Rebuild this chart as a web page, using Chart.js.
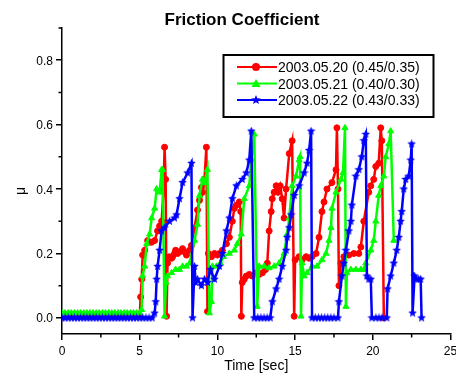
<!DOCTYPE html>
<html>
<head>
<meta charset="utf-8">
<script src="https://cdn.jsdelivr.net/npm/chart.js@4/dist/chart.umd.min.js"></script>
<style>
  html, body { margin: 0; padding: 0; background: #fff; }
  #wrap { width: 456px; height: 381px; }
</style>
</head>
<body>
<div id="wrap"><canvas id="friction_chart" width="456" height="381"></canvas></div>
<script>
// axis ticks
const xTicks = [0, 5, 10, 15, 20, 25];
const xMinor = [2.5, 7.5, 12.5, 17.5, 22.5];
const yTicks = [0, 0.2, 0.4, 0.6, 0.8];
const yTickLabels = ["0.0", "0.2", "0.4", "0.6", "0.8"];
const yMinor = [0.1, 0.3, 0.5, 0.7, 0.9];

const seriesNames = ["2003.05.20 (0.45/0.35)", "2003.05.21 (0.40/0.30)", "2003.05.22 (0.43/0.33)"];

// 2003.05.20 (red)
const redTime = [0, 0.2, 0.4, 0.6, 0.8, 1, 1.2, 1.4, 1.6, 1.8, 2, 2.2, 2.4, 2.6, 2.8, 3, 3.2, 3.4, 3.6, 3.8, 4, 4.2, 4.4, 4.6, 4.8, 5,
  5.06, 5.13, 5.19, 5.32, 5.51, 5.64, 5.77, 5.96, 6.15, 6.28,
  6.41, 6.54, 6.60, 6.67, 6.73, 6.79, 6.92, 7.05, 7.12, 7.24,
  7.31, 7.44, 7.56, 7.76, 7.88, 8.01, 8.21, 8.33, 8.53, 8.72,
  8.85, 8.97, 9.04, 9.17, 9.29, 9.36, 9.42, 9.62, 9.81, 10.0,
  10.13, 10.32, 10.58, 10.77, 10.96, 11.09, 11.22, 11.41, 11.50, 11.54,
  11.60, 11.73, 11.86, 12.05, 12.24, 12.50, 12.69, 12.90, 13.10, 13.21,
  13.33, 13.46, 13.53, 13.65, 13.78, 13.90, 14.04, 14.17, 14.29, 14.42,
  14.62, 14.81, 14.94, 15.00, 15.26, 15.45, 15.71, 15.90, 16.09, 16.35,
  16.54, 16.73, 16.86, 17.05, 17.37, 17.63, 17.69, 17.76, 17.82, 17.95,
  18.14, 18.46, 18.78, 19.10, 19.23, 19.42, 19.74, 19.87, 20.06, 20.19,
  20.38, 20.51, 20.58, 20.71];
const redMu = [0.005, 0.005, 0.005, 0.005, 0.005, 0.005, 0.005, 0.005, 0.005, 0.005, 0.005, 0.005, 0.005, 0.005, 0.005, 0.005, 0.005, 0.005, 0.005, 0.005, 0.005, 0.005, 0.005, 0.005, 0.005, 0.005,
  0.065, 0.12, 0.195, 0.21, 0.24, 0.235, 0.235, 0.24, 0.27, 0.285,
  0.30, 0.40, 0.53, 0.43, 0.005, 0.17, 0.19, 0.185, 0.19, 0.20,
  0.21, 0.20, 0.205, 0.215, 0.205, 0.195, 0.21, 0.225, 0.28, 0.335,
  0.365, 0.405, 0.39, 0.43, 0.53, 0.02, 0.20, 0.19, 0.20, 0.195,
  0.20, 0.21, 0.23, 0.25, 0.30, 0.34, 0.35, 0.36, 0.33, 0.005,
  0.11, 0.12, 0.13, 0.135, 0.13, 0.14, 0.135, 0.14, 0.15, 0.17,
  0.27, 0.33, 0.37, 0.39, 0.41, 0.39, 0.41, 0.37, 0.31, 0.40,
  0.51, 0.55, 0.005, 0.18, 0.19, 0.18, 0.19, 0.185, 0.19, 0.20,
  0.25, 0.33, 0.36, 0.40, 0.42, 0.46, 0.59, 0.40, 0.10, 0.17,
  0.19, 0.195, 0.20, 0.20, 0.22, 0.30, 0.39, 0.41, 0.43, 0.47,
  0.48, 0.59, 0.55, 0];

// 2003.05.21 (green)
const greenTime = [0, 0.2, 0.4, 0.6, 0.8, 1, 1.2, 1.4, 1.6, 1.8, 2, 2.2, 2.4, 2.6, 2.8, 3, 3.2, 3.4, 3.6, 3.8, 4, 4.2, 4.4, 4.6, 4.8, 5,
  5.13, 5.19, 5.32, 5.45, 5.64, 5.77, 5.96, 6.09, 6.28, 6.41,
  6.47, 6.60, 6.70, 6.79, 7.05, 7.31, 7.56, 7.76, 8.01, 8.21,
  8.53, 8.72, 8.85, 9.04, 9.17, 9.36, 9.49, 9.62, 9.68, 9.94,
  10.19, 10.39, 10.77, 11.09, 11.28, 11.54, 11.73, 12.05, 12.18, 12.37,
  12.56, 12.69, 13.01, 13.33, 13.65, 13.97, 14.29, 14.49, 14.62, 14.81,
  15.06, 15.26, 15.32, 15.38, 15.45, 15.58, 15.77, 16.09, 16.41, 16.73,
  16.99, 17.18, 17.31, 17.37, 17.63, 17.95, 18.08, 18.21, 18.27, 18.33,
  18.59, 18.91, 19.23, 19.42, 19.55, 19.87, 20.06, 20.19, 20.38, 20.51,
  20.71, 20.83, 21.03, 21.15, 21.35];
const greenMu = [0.015, 0.015, 0.015, 0.015, 0.015, 0.015, 0.015, 0.015, 0.015, 0.015, 0.015, 0.015, 0.015, 0.015, 0.015, 0.015, 0.015, 0.015, 0.015, 0.015, 0.015, 0.015, 0.015, 0.015, 0.015, 0.015,
  0.025, 0.13, 0.16, 0.23, 0.26, 0.31, 0.34, 0.40, 0.39, 0.46,
  0.46, 0.005, 0.11, 0.13, 0.14, 0.15, 0.15, 0.16, 0.16, 0.17,
  0.24, 0.29, 0.38, 0.43, 0.42, 0.46, 0.015, 0.05, 0.16, 0.16,
  0.17, 0.19, 0.20, 0.21, 0.23, 0.26, 0.37, 0.41, 0.49, 0.57,
  0.035, 0.16, 0.16, 0.155, 0.16, 0.17, 0.20, 0.26, 0.31, 0.41,
  0.44, 0.49, 0.50, 0.005, 0.17, 0.13, 0.14, 0.16, 0.16, 0.18,
  0.20, 0.24, 0.28, 0.34, 0.39, 0.43, 0.45, 0.59, 0.035, 0.14,
  0.15, 0.15, 0.15, 0.15, 0.17, 0.21, 0.24, 0.30, 0.38, 0.41,
  0.44, 0.50, 0.54, 0.58, 0.24];

// 2003.05.22 (blue)
const blueTime = [0, 0.2, 0.4, 0.6, 0.8, 1, 1.2, 1.4, 1.6, 1.8, 2, 2.2, 2.4, 2.6, 2.8, 3, 3.2, 3.4, 3.6, 3.8, 4, 4.2, 4.4, 4.6, 4.8, 5, 5.2, 5.4, 5.6, 5.8,
  5.96, 6.03, 6.09, 6.15, 6.28, 6.41, 6.60, 6.92, 7.24, 7.37,
  7.56, 7.76, 8.08, 8.33, 8.40, 8.53, 8.60, 8.72, 8.97, 9.17,
  9.36, 9.55, 9.81, 10.13, 10.32, 10.58, 10.77, 10.96, 11.22, 11.60,
  11.86, 12.05, 12.18, 12.37, 12.6, 12.8, 13.0, 13.2, 13.4, 13.53,
  13.78, 13.97, 14.17, 14.42, 14.49, 14.62, 14.74, 14.94, 15.26, 15.58,
  15.77, 15.90, 16.03, 16.09, 16.3, 16.5, 16.7, 16.9, 17.1, 17.3,
  17.5, 17.76, 17.82, 18.01, 18.14, 18.27, 18.46, 18.59, 18.65, 18.91,
  19.10, 19.29, 19.42, 19.55, 19.62, 19.74, 19.87, 19.94, 20.2, 20.4,
  20.6, 20.9, 20.95, 21.15, 21.35, 21.54, 21.67, 21.79, 21.86, 21.99,
  22.12, 22.31, 22.44, 22.50, 22.56, 22.69, 22.82, 22.95, 23.08, 23.14];
const blueMu = [0, 0, 0, 0, 0, 0, 0, 0, 0, 0, 0, 0, 0, 0, 0, 0, 0, 0, 0, 0, 0, 0, 0, 0, 0, 0, 0, 0, 0, 0,
  0.015, 0.05, 0.12, 0.16, 0.21, 0.27, 0.28, 0.30, 0.31, 0.32,
  0.37, 0.42, 0.45, 0.48, 0, 0.16, 0.11, 0.12, 0.10, 0.12,
  0.11, 0.15, 0.12, 0.16, 0.20, 0.27, 0.31, 0.37, 0.41, 0.43,
  0.45, 0.49, 0.58, 0, 0, 0, 0, 0, 0, 0.05,
  0.09, 0.12, 0.16, 0.21, 0.25, 0.28, 0.32, 0.38, 0.41, 0.45,
  0.48, 0.52, 0.58, 0, 0, 0, 0, 0, 0, 0,
  0, 0, 0.05, 0.13, 0.17, 0.21, 0.27, 0.30, 0.35, 0.44,
  0.46, 0.50, 0.55, 0.57, 0.13, 0.12, 0.12, 0, 0, 0,
  0, 0, 0.09, 0.13, 0.17, 0.21, 0.25, 0.30, 0.33, 0.40,
  0.43, 0.44, 0.49, 0.54, 0.015, 0.13, 0.12, 0.12, 0.12, 0];

const RED = "#ff0000", GREEN = "#00ff00", BLUE = "#0000ff";
const FONT = '"Liberation Sans", Arial, sans-serif';

function to_points(times, values) {
  return times.map((t, i) => ({ x: t, y: values[i] }));
}

// filled five point star, used as point style for the blue set
function make_star(size, color) {
  const c = document.createElement("canvas");
  c.width = size; c.height = size;
  const g = c.getContext("2d");
  draw_star(g, size / 2, size / 2, size / 2, color);
  return c;
}

function draw_star(g, cx, cy, r, color) {
  g.beginPath();
  for (let i = 0; i < 10; i++) {
    const rr = i % 2 === 0 ? r : r * 0.45;
    const a = -Math.PI / 2 + i * Math.PI / 5;
    const px = cx + rr * Math.cos(a), py = cy + rr * Math.sin(a);
    if (i === 0) g.moveTo(px, py); else g.lineTo(px, py);
  }
  g.closePath();
  g.fillStyle = color;
  g.fill();
}

function draw_marker(g, style, cx, cy, color) {
  g.fillStyle = color;
  if (style === "circle") {
    g.beginPath(); g.arc(cx, cy, 4, 0, Math.PI * 2); g.fill();
  } else if (style === "triangle") {
    g.beginPath(); g.moveTo(cx, cy - 4.5); g.lineTo(cx + 4.5, cy + 3.5); g.lineTo(cx - 4.5, cy + 3.5); g.closePath(); g.fill();
  } else {
    draw_star(g, cx, cy, 5, color);
  }
}

const overlay = {
  id: "overlay",
  afterDraw(chart) {
    const g = chart.ctx, xs = chart.scales.x, ys = chart.scales.y;
    const area = chart.chartArea;
    g.save();
    g.strokeStyle = "#000";
    g.lineWidth = 1.5;

    // minor ticks
    g.beginPath();
    xMinor.forEach(v => {
      const px = xs.getPixelForValue(v);
      g.moveTo(px, area.bottom); g.lineTo(px, area.bottom + 3.5);
    });
    yMinor.forEach(v => {
      const py = ys.getPixelForValue(v);
      g.moveTo(area.left, py); g.lineTo(area.left - 3.5, py);
    });
    g.stroke();

    // tick labels
    g.fillStyle = "#000";
    g.font = "12px " + FONT;
    g.textAlign = "center";
    g.textBaseline = "alphabetic";
    xTicks.forEach(v => g.fillText(String(v), xs.getPixelForValue(v), area.bottom + 21));
    g.textAlign = "right";
    yTicks.forEach((v, i) => g.fillText(yTickLabels[i], area.left - 9, ys.getPixelForValue(v) + 4.5));

    // titles
    g.textAlign = "center";
    g.font = "bold 17px " + FONT;
    g.fillText("Friction Coefficient", 242, 25);
    g.font = "14px " + FONT;
    g.fillText("Time [sec]", (area.left + area.right) / 2, 370);
    g.save();
    g.translate(25, 191);
    g.rotate(-Math.PI / 2);
    g.fillText("μ", 0, 0);
    g.restore();

    // legend
    g.lineWidth = 2;
    g.strokeRect(223.5, 55, 210, 62);
    const styles = ["circle", "triangle", "star"];
    const colors = [RED, GREEN, BLUE];
    g.font = "14px " + FONT;
    g.textAlign = "left";
    seriesNames.forEach((name, i) => {
      const cy = 67 + i * 16.5;
      g.strokeStyle = colors[i];
      g.lineWidth = 2;
      g.beginPath(); g.moveTo(237, cy); g.lineTo(277, cy); g.stroke();
      draw_marker(g, styles[i], 256, cy, colors[i]);
      g.fillStyle = "#000";
      g.fillText(name, 278, cy + 5);
    });
    g.restore();
  }
};

function setup_friction_chart() {
  const ctx = document.getElementById("friction_chart").getContext("2d");
  const starImg = make_star(9, BLUE);

  new Chart(ctx, {
    type: "line",
    data: {
      datasets: [{
        label: seriesNames[0],
        data: to_points(redTime, redMu),
        borderColor: RED,
        backgroundColor: RED,
        pointStyle: "circle",
        pointRadius: 3,
        order: 3
      }, {
        label: seriesNames[1],
        data: to_points(greenTime, greenMu),
        borderColor: GREEN,
        backgroundColor: GREEN,
        pointStyle: "triangle",
        pointRadius: 3.5,
        order: 2
      }, {
        label: seriesNames[2],
        data: to_points(blueTime, blueMu),
        borderColor: BLUE,
        backgroundColor: BLUE,
        pointStyle: starImg,
        pointRadius: 4.5,
        order: 1
      }]
    },
    options: {
      responsive: false,
      animation: false,
      devicePixelRatio: 1,
      layout: { padding: { left: 56, right: 4, top: 28, bottom: 41 } },
      elements: {
        line: { borderWidth: 2.5, tension: 0 },
        point: { borderWidth: 1 }
      },
      plugins: {
        legend: { display: false },
        title: { display: false },
        tooltip: { enabled: false }
      },
      scales: {
        x: {
          type: "linear",
          min: 0,
          max: 25,
          afterBuildTicks: scale => { scale.ticks = xTicks.map(v => ({ value: v })); },
          ticks: { display: false },
          grid: { display: true, drawOnChartArea: false, drawTicks: true, tickLength: 6, color: "#000", lineWidth: 1.5 },
          border: { display: true, color: "#000", width: 1.5 }
        },
        y: {
          type: "linear",
          min: -0.05,
          max: 0.9,
          afterBuildTicks: scale => { scale.ticks = yTicks.map(v => ({ value: v })); },
          ticks: { display: false },
          grid: { display: true, drawOnChartArea: false, drawTicks: true, tickLength: 6, color: "#000", lineWidth: 1.5 },
          border: { display: true, color: "#000", width: 1.5 }
        }
      }
    },
    plugins: [overlay]
  });
}

setup_friction_chart();
</script>
</body>
</html>
